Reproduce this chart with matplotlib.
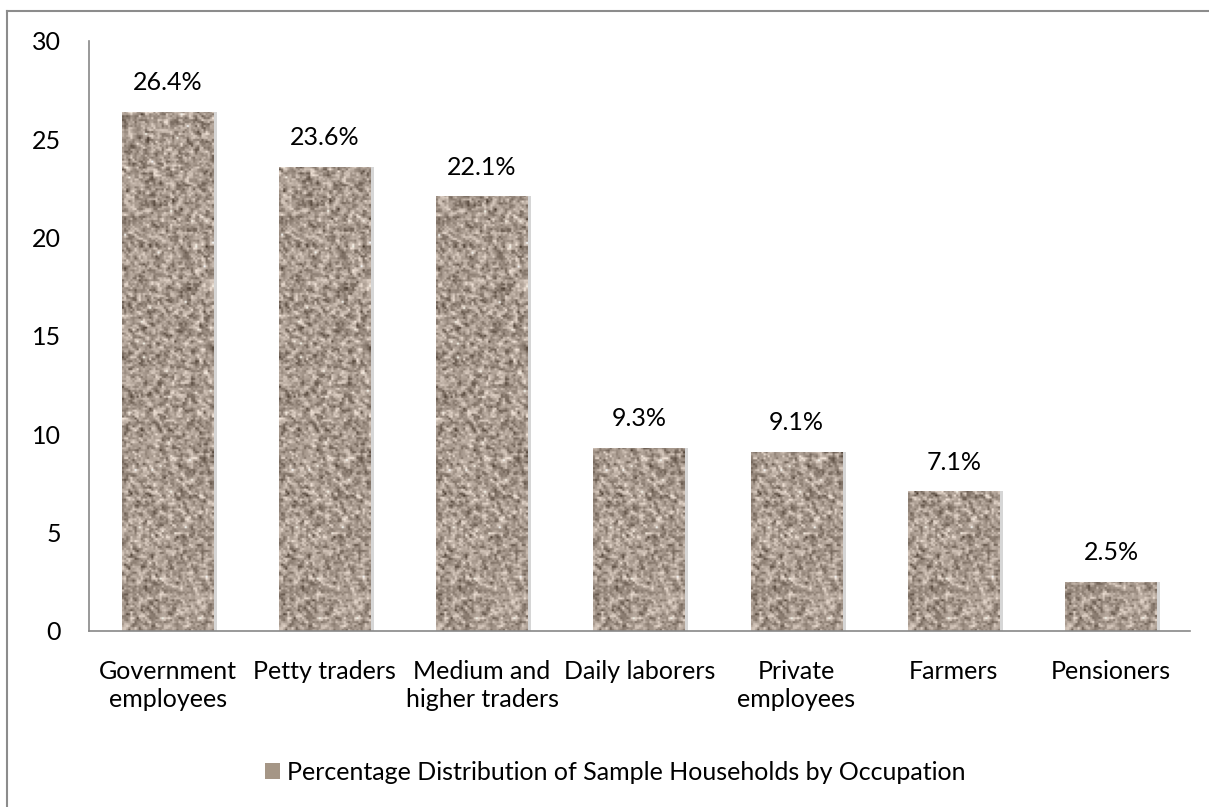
import numpy as np
import matplotlib
matplotlib.use("Agg")
import matplotlib.pyplot as plt
from matplotlib.lines import Line2D
from matplotlib.patches import Patch

plt.rcParams['font.family'] = ['Lato', 'DejaVu Sans']

# Data
categories = ["Government\nemployees", "Petty traders", "Medium and\nhigher traders",
              "Daily laborers", "Private\nemployees", "Farmers", "Pensioners"]
values = [26.4, 23.6, 22.1, 9.3, 9.1, 7.1, 2.5]
value_labels = ["26.4%", "23.6%", "22.1%", "9.3%", "9.1%", "7.1%", "2.5%"]
series_name = "Percentage Distribution of Sample Households by Occupation"

fs = 18

fig = plt.figure(figsize=(12.09, 8.07), dpi=100)
ax = fig.add_axes([0.0736, 0.2181, 0.9104, 0.7311])

x = np.arange(len(categories))
bar_color = "#a59686"
bars = ax.bar(x, values, width=0.585, color=bar_color, zorder=2)

# granite-like texture clipped to each bar (fixed seed, purely decorative)
rng = np.random.default_rng(3)
noise = rng.normal(0, 1, (300, 45))
sm = (noise[:-1, :-1] + noise[1:, :-1] + noise[:-1, 1:] + noise[1:, 1:]) / 2.0
sm = 0.6 * sm + 0.6 * noise[:-1, :-1]
base = np.array([0.66, 0.605, 0.56])
tex = np.clip(base[None, None, :] + 0.11 * sm[:, :, None], 0.12, 0.95)
for b in bars:
    x0, w, h = b.get_x(), b.get_width(), b.get_height()
    im = ax.imshow(tex, extent=[x0, x0 + w, 0, 30], aspect="auto",
                   interpolation="antialiased", zorder=3)
    im.set_clip_path(b)
    # soft shadow on right side
    ax.fill_between([x0 + w, x0 + w + 0.02], 0, h, color="#8a8a8a", alpha=0.35,
                    lw=0, zorder=1)

for xi, v, lab in zip(x, values, value_labels):
    ax.text(xi, v + 0.9, lab, ha="center", va="bottom", fontsize=fs, color="black")

ax.set_xlim(-0.5, len(categories) - 0.5)
ax.set_ylim(0, 30)
ax.set_yticks(range(0, 31, 5))
ax.set_xticks(x)
ax.set_xticklabels(categories, fontsize=fs, linespacing=1.25)
ax.tick_params(axis="y", labelsize=fs, length=0, pad=20)
ax.tick_params(axis="x", length=0, pad=21)
for s in ["top", "right"]:
    ax.spines[s].set_visible(False)
for s in ["left", "bottom"]:
    ax.spines[s].set_color("#888888")
    ax.spines[s].set_linewidth(1.2)
ax.spines["bottom"].set_zorder(5)

# legend
handle = Patch(facecolor=bar_color, edgecolor="none")
fig.legend([handle], [series_name], loc="center", bbox_to_anchor=(0.509, 0.043),
           frameon=False, fontsize=fs, handlelength=0.6, handleheight=0.6,
           handletextpad=0.3)

# outer chart border (top and left visible)
fig.add_artist(Line2D([7 / 1209, 1.0], [1 - 11 / 807, 1 - 11 / 807],
                      transform=fig.transFigure, color="#8c8c8c", lw=1.5))
fig.add_artist(Line2D([7 / 1209, 7 / 1209], [0, 1 - 11 / 807],
                      transform=fig.transFigure, color="#8c8c8c", lw=1.5))

fig.savefig("out.png", dpi=100)
